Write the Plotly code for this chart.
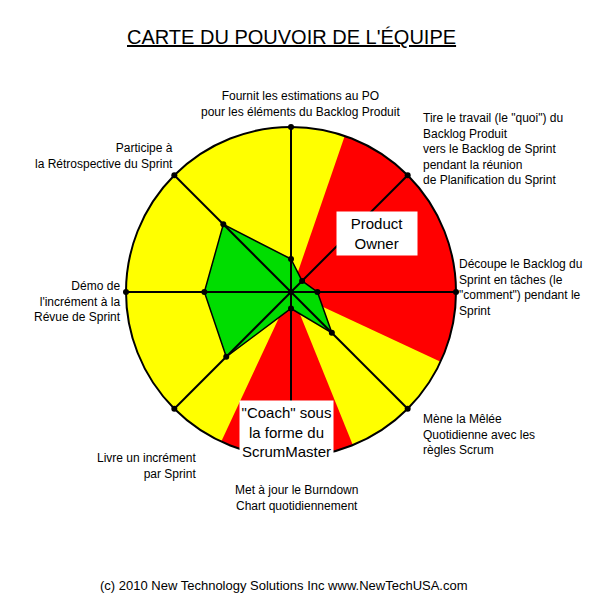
import plotly.graph_objects as go

W, H = 603, 606

# ---- data ----
categories = [
    "Fournit les estimations au PO<br>pour les éléments du Backlog Produit",
    "Tire le travail (le \"quoi\") du<br>Backlog Produit<br>vers le Backlog de Sprint<br>pendant la réunion<br>de Planification du Sprint",
    "Découpe le Backlog du<br>Sprint en tâches (le<br>\"comment\") pendant le<br>Sprint",
    "Mène la Mêlée<br>Quotidienne avec les<br>règles Scrum",
    "Met à jour le Burndown<br>Chart quotidiennement",
    "Livre un incrément<br>par Sprint",
    "Démo de<br>l'incrément à la<br>Révue de Sprint",
    "Participe à<br>la Rétrospective du Sprint",
]
team_power = [2.0, 0.95, 1.6, 3.5, 1.0, 5.55, 5.25, 5.8]
r_max = 10

# red zones (degrees clockwise from top): start, end
red_start = [19, 158]
red_end = [115, 205]
zone_names = ["Product<br>Owner", "\"Coach\" sous<br>la forme du<br>ScrumMaster"]

title_text = "CARTE DU POUVOIR DE L'ÉQUIPE"
footer_text = "(c) 2010 New Technology Solutions Inc www.NewTechUSA.com"

# ---- derived ----
n = len(categories)
angles = [i * 360 / n for i in range(n)]

FONT = "Liberation Sans, Arial, sans-serif"
YELLOW = "#ffff00"
RED = "#ff0000"
GREEN = "#00dd00"

fig = go.Figure()

# red wedges
fig.add_trace(go.Barpolar(
    r=[r_max] * len(red_start),
    theta=[(a + b) / 2 for a, b in zip(red_start, red_end)],
    width=[b - a for a, b in zip(red_start, red_end)],
    marker=dict(color=RED, line=dict(width=0)),
    hoverinfo="skip",
))

# team power polygon
fig.add_trace(go.Scatterpolar(
    r=team_power + team_power[:1],
    theta=angles + angles[:1],
    mode="lines",
    fill="toself",
    fillcolor=GREEN,
    line=dict(color="black", width=1.5),
))

# spokes
sr, st = [], []
for a in angles:
    sr += [0, r_max, None]
    st += [a, a, None]
fig.add_trace(go.Scatterpolar(
    r=sr, theta=st, mode="lines",
    line=dict(color="black", width=2),
))

# rim markers
fig.add_trace(go.Scatterpolar(
    r=[r_max] * n, theta=angles, mode="markers",
    marker=dict(color="black", size=6),
))
# data markers + hub
fig.add_trace(go.Scatterpolar(
    r=team_power + [0], theta=angles + [0], mode="markers",
    marker=dict(color="black", size=6),
))

# polar placement
cx, cy, R = 291, 292, 165
fig.update_layout(
    polar=dict(
        domain=dict(x=[(cx - R) / W, (cx + R) / W],
                    y=[1 - (cy + R) / H, 1 - (cy - R) / H]),
        bgcolor=YELLOW,
        radialaxis=dict(visible=False, range=[0, r_max]),
        angularaxis=dict(
            type="linear", direction="clockwise", rotation=90,
            showgrid=False, showticklabels=False, ticks="",
            showline=True, linecolor="black", linewidth=2,
        ),
    ),
    width=W, height=H,
    margin=dict(l=0, r=0, t=0, b=0),
    paper_bgcolor="white",
    showlegend=False,
    font=dict(family=FONT, color="black"),
)

def px(x, y):
    return x / W, 1 - y / H

annotations = []
# category labels (layout positions in pixels)
label_layout = [
    (300, 103.5, "center"),
    (421, 149, "left"),
    (457, 287.5, "left"),
    (421, 434, "left"),
    (296, 498, "center"),
    (198, 465.5, "right"),
    (123, 301, "right"),
    (175, 155.5, "right"),
]
for text, (x, y, anc) in zip(categories, label_layout):
    ax, ay = px(x, y)
    annotations.append(dict(
        text=text, x=ax, y=ay, xref="paper", yref="paper",
        xanchor=anc, yanchor="middle", align=anc, showarrow=False,
        font=dict(family=FONT, size=12, color="black"),
    ))

# zone boxes
zone_layout = [(377, 233.5, 80, 43), (286.5, 431.5, 93, 62)]
for text, (x, y, w, h) in zip(zone_names, zone_layout):
    ax, ay = px(x, y)
    annotations.append(dict(
        text=text, x=ax, y=ay, xref="paper", yref="paper",
        xanchor="center", yanchor="middle", align="center", valign="middle",
        showarrow=False, width=w, height=h, bgcolor="white", borderpad=0,
        font=dict(family=FONT, size=15, color="black"),
    ))

# title
ax, ay = px(291.5, 37)
annotations.append(dict(
    text="<u>" + title_text + "</u>", x=ax, y=ay, xref="paper", yref="paper",
    xanchor="center", yanchor="middle", showarrow=False,
    font=dict(family=FONT, size=20, color="black"),
))
# footer
ax, ay = px(284, 585)
annotations.append(dict(
    text=footer_text, x=ax, y=ay, xref="paper", yref="paper",
    xanchor="center", yanchor="middle", showarrow=False,
    font=dict(family=FONT, size=13, color="black"),
))

fig.update_layout(annotations=annotations)
fig.write_html(
    "out.html",
    config={"displayModeBar": False},
    post_script="document.body.style.margin='0';document.body.style.overflow='hidden';",
)
